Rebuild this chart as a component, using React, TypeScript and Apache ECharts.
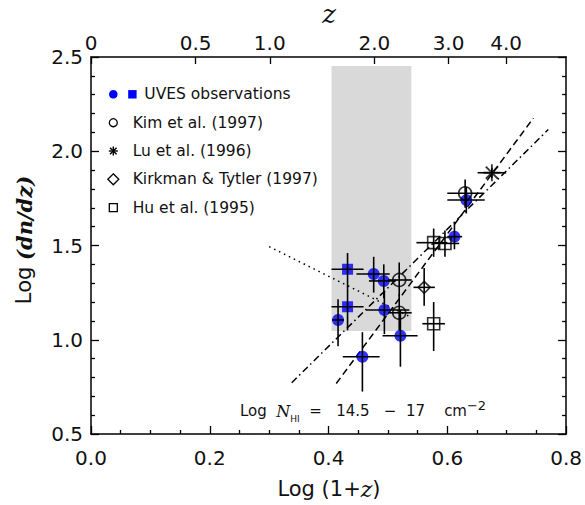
import React, { useEffect, useRef } from "react";
import * as echarts from "echarts";

// ---------- data ----------
// [x, y, xLow, xHigh, yLow, yHigh]  (x = Log(1+z), y = Log dn/dz)
const uvesCircles = [
  [0.416, 1.105, 0.406, 0.426, 0.965, 1.215],
  [0.476, 1.349, 0.447, 0.503, 1.25, 1.44],
  [0.493, 1.312, 0.468, 0.513, 1.22, 1.4],
  [0.494, 1.158, 0.463, 0.536, 1.03, 1.26],
  [0.521, 1.021, 0.491, 0.55, 0.857, 1.16],
  [0.457, 0.91, 0.424, 0.486, 0.725, 1.04],
  [0.612, 1.547, 0.6, 0.625, 1.48, 1.62],
  [0.632, 1.741, 0.6, 0.663, 1.67, 1.81],
];
const uvesSquares = [
  [0.432, 1.374, 0.405, 0.459, 1.27, 1.46],
  [0.432, 1.175, 0.405, 0.459, 1.05, 1.27],
];
const kim1997 = [
  [0.519, 1.317, 0.5, 0.54, 1.23, 1.41],
  [0.519, 1.143, 0.5, 0.54, 1.05, 1.24],
  [0.63, 1.777, 0.6, 0.66, 1.7, 1.85],
];
const lu1996 = [[0.675, 1.886, 0.651, 0.699, 1.86, 1.912]];
const kirkman1997 = [[0.561, 1.278, 0.543, 0.579, 1.18, 1.38]];
const hu1995 = [
  [0.577, 1.085, 0.558, 0.596, 0.94, 1.2],
  [0.577, 1.515, 0.548, 0.6, 1.44, 1.59],
  [0.596, 1.511, 0.575, 0.62, 1.44, 1.58],
];

const dashedFit = [[0.413, 0.768], [0.745, 2.176]];
const dashDotFit = [[0.338, 0.772], [0.77, 2.115]];
const dottedLine = [[0.3, 1.494], [0.539, 1.119]];
const shadedBand = [[0.405, 1.046], [0.5395, 2.452]];

const zTickValues = [0, 0.5, 1, 2, 3, 4];
const zTickLabels = ["0", "0.5", "1.0", "2.0", "3.0", "4.0"];
const zTickPositions = zTickValues.map((z) => Math.log10(1 + z));

const legendLabels = [
  "UVES observations",
  "Kim et al. (1997)",
  "Lu et al. (1996)",
  "Kirkman & Tytler (1997)",
  "Hu et al. (1995)",
];

// ---------- styles ----------
const SANS = '"DejaVu Sans", sans-serif';
const SERIF = '"DejaVu Serif", serif';
const INK = "#111";
const BLUE = "#0000ff";
const ASTERISK = "path://M0,-10L0,10M-10,0L10,0M-7.07,-7.07L7.07,7.07M-7.07,7.07L7.07,-7.07";

const allPoints = [
  ...uvesCircles,
  ...uvesSquares,
  ...kim1997,
  ...lu1996,
  ...kirkman1997,
  ...hu1995,
];

function errorBarItem(params: any, api: any) {
  const x = api.value(0);
  const y = api.value(1);
  const l = api.coord([api.value(2), y]);
  const r = api.coord([api.value(3), y]);
  const b = api.coord([x, api.value(4)]);
  const t = api.coord([x, api.value(5)]);
  const st = { stroke: "#000", lineWidth: 1.6 };
  return {
    type: "group",
    children: [
      { type: "line", shape: { x1: l[0], y1: l[1], x2: r[0], y2: r[1] }, style: st },
      { type: "line", shape: { x1: b[0], y1: b[1], x2: t[0], y2: t[1] }, style: st },
    ],
  };
}

const openStyle = { color: "rgba(0,0,0,0)", borderColor: "#000", borderWidth: 1.6 };

function axisCommon() {
  return {
    type: "value",
    axisLine: { show: true, onZero: false, lineStyle: { color: "#000", width: 1.5 } },
    splitLine: { show: false },
  };
}

const labelStyle = { fontFamily: SANS, fontSize: 20, color: INK };

export default function App() {
  const ref = useRef<HTMLDivElement>(null);
  useEffect(() => {
    if (!ref.current) return;
    const chart = echarts.init(ref.current, null, { renderer: "svg" });
    const lx = 113.3;
    const rows = [94.3, 122.7, 151, 179.3, 207.7];
    const legendFont = `15.5px ${SANS}`;
    const option: any = {
      animation: false,
      grid: { left: 91, right: 18, top: 57, bottom: 71 },
      xAxis: [
        {
          ...axisCommon(),
          position: "bottom",
          min: 0,
          max: 0.8,
          interval: 0.2,
          axisTick: { inside: true, length: 8, lineStyle: { color: "#000", width: 1.3 } },
          minorTick: { show: true, splitNumber: 4, length: 4, lineStyle: { color: "#000", width: 1.3 } },
          axisLabel: { ...labelStyle, margin: 14, formatter: (v: number) => v.toFixed(1) },
        },
        {
          ...axisCommon(),
          position: "top",
          min: 0,
          max: 0.8,
          axisTick: {
            inside: true,
            length: 7,
            customValues: zTickPositions,
            lineStyle: { color: "#000", width: 1.3 },
          },
          axisLabel: {
            ...labelStyle,
            margin: 4,
            customValues: zTickPositions,
            formatter: (v: number) => {
              const i = zTickPositions.findIndex((p) => Math.abs(p - v) < 1e-6);
              return i >= 0 ? zTickLabels[i] : "";
            },
          },
        },
      ],
      yAxis: [
        {
          ...axisCommon(),
          position: "left",
          min: 0.5,
          max: 2.5,
          interval: 0.5,
          axisTick: { inside: true, length: 8, lineStyle: { color: "#000", width: 1.3 } },
          minorTick: { show: true, splitNumber: 5, length: 4, lineStyle: { color: "#000", width: 1.3 } },
          axisLabel: { ...labelStyle, margin: 8, formatter: (v: number) => v.toFixed(1) },
        },
        {
          ...axisCommon(),
          position: "right",
          min: 0.5,
          max: 2.5,
          interval: 0.5,
          axisTick: { inside: true, length: 8, lineStyle: { color: "#000", width: 1.3 } },
          minorTick: { show: true, splitNumber: 5, length: 4, lineStyle: { color: "#000", width: 1.3 } },
          axisLabel: { show: false },
        },
      ],
      series: [
        {
          type: "line",
          data: [],
          z: 1,
          silent: true,
          markArea: {
            silent: true,
            itemStyle: { color: "#d9d9d9" },
            data: [[{ coord: shadedBand[0] }, { coord: shadedBand[1] }]],
          },
        },
        {
          type: "line",
          data: dashedFit,
          z: 2,
          silent: true,
          showSymbol: false,
          lineStyle: { color: "#000", width: 1.5, type: [7, 4] },
        },
        {
          type: "line",
          data: dashDotFit,
          z: 2,
          silent: true,
          showSymbol: false,
          lineStyle: { color: "#000", width: 1.5, type: [7, 3.5, 1.5, 3.5] },
        },
        {
          type: "line",
          data: dottedLine,
          z: 2,
          silent: true,
          showSymbol: false,
          lineStyle: { color: "#000", width: 1.5, type: [1.5, 4] },
        },
        {
          type: "scatter",
          data: uvesCircles.map((d) => [d[0], d[1]]),
          symbol: "circle",
          symbolSize: 12,
          z: 3,
          silent: true,
          itemStyle: { color: BLUE },
        },
        {
          type: "scatter",
          data: uvesSquares.map((d) => [d[0], d[1]]),
          symbol: "rect",
          symbolSize: 11,
          z: 3,
          silent: true,
          itemStyle: { color: BLUE },
        },
        {
          type: "custom",
          data: allPoints,
          z: 4,
          silent: true,
          renderItem: errorBarItem,
          encode: { x: [0, 2, 3], y: [1, 4, 5] },
        },
        {
          type: "scatter",
          data: kim1997.map((d) => [d[0], d[1]]),
          symbol: "circle",
          symbolSize: 13,
          z: 5,
          silent: true,
          itemStyle: openStyle,
        },
        {
          type: "scatter",
          data: hu1995.map((d) => [d[0], d[1]]),
          symbol: "rect",
          symbolSize: 12,
          z: 5,
          silent: true,
          itemStyle: openStyle,
        },
        {
          type: "scatter",
          data: kirkman1997.map((d) => [d[0], d[1]]),
          symbol: "diamond",
          symbolSize: [12, 12],
          z: 5,
          silent: true,
          itemStyle: openStyle,
        },
        {
          type: "scatter",
          data: lu1996.map((d) => [d[0], d[1]]),
          symbol: ASTERISK,
          symbolSize: 17,
          z: 5,
          silent: true,
          itemStyle: { color: "rgba(0,0,0,0)", borderColor: "#000", borderWidth: 1.8 },
        },
      ],
      graphic: [
        // titles
        {
          type: "text",
          x: 329,
          y: 14,
          style: { text: "z", font: `italic 26px ${SERIF}`, fill: INK, align: "center", verticalAlign: "middle" },
        },
        {
          type: "text",
          x: 329,
          y: 489,
          style: {
            text: "{s|Log (1+}{i|z}{s|)}",
            align: "center",
            verticalAlign: "middle",
            rich: {
              s: { fontFamily: SANS, fontSize: 21, fill: INK },
              i: { fontFamily: SERIF, fontStyle: "italic", fontSize: 22, fill: INK },
            },
          },
        },
        {
          type: "text",
          x: 24,
          y: 240,
          rotation: Math.PI / 2,
          style: {
            text: "{s|Log }{i|(dn/dz)}",
            align: "center",
            verticalAlign: "middle",
            rich: {
              s: { fontFamily: SANS, fontSize: 21, fill: INK },
              i: { fontFamily: SERIF, fontStyle: "italic", fontWeight: "bold", fontSize: 21, fill: INK },
            },
          },
        },
        {
          type: "text",
          x: 240,
          y: 411,
          style: {
            text: "{s|Log  }{n|N}{sub|HI}{s|  =   14.5   \u2212  17    cm}{sup|\u22122}",
            align: "left",
            verticalAlign: "middle",
            rich: {
              s: { fontFamily: SANS, fontSize: 15, fill: INK, lineHeight: 24 },
              n: { fontFamily: SERIF, fontStyle: "italic", fontSize: 16, fill: INK, lineHeight: 24 },
              sub: { fontFamily: SANS, fontSize: 9, fill: INK, verticalAlign: "bottom", lineHeight: 14 },
              sup: { fontFamily: SANS, fontSize: 13, fill: INK, verticalAlign: "top", lineHeight: 12 },
            },
          },
        },
        // legend symbols
        { type: "circle", shape: { cx: lx, cy: rows[0], r: 4.3 }, style: { fill: BLUE } },
        { type: "rect", shape: { x: 128.2, y: rows[0] - 4.2, width: 8.4, height: 8.4 }, style: { fill: BLUE } },
        { type: "circle", shape: { cx: lx, cy: rows[1], r: 4 }, style: { fill: "none", stroke: "#000", lineWidth: 1.3 } },
        { type: "line", shape: { x1: lx, y1: rows[2] - 4.5, x2: lx, y2: rows[2] + 4.5 }, style: { stroke: "#000", lineWidth: 1.4 } },
        { type: "line", shape: { x1: lx - 4.5, y1: rows[2], x2: lx + 4.5, y2: rows[2] }, style: { stroke: "#000", lineWidth: 1.4 } },
        { type: "line", shape: { x1: lx - 3.3, y1: rows[2] - 3.3, x2: lx + 3.3, y2: rows[2] + 3.3 }, style: { stroke: "#000", lineWidth: 1.4 } },
        { type: "line", shape: { x1: lx - 3.3, y1: rows[2] + 3.3, x2: lx + 3.3, y2: rows[2] - 3.3 }, style: { stroke: "#000", lineWidth: 1.4 } },
        {
          type: "polygon",
          shape: { points: [[lx, rows[3] - 5.5], [lx + 5.5, rows[3]], [lx, rows[3] + 5.5], [lx - 5.5, rows[3]]] },
          style: { fill: "none", stroke: "#000", lineWidth: 1.3 },
        },
        { type: "rect", shape: { x: lx - 4, y: rows[4] - 4, width: 8, height: 8 }, style: { fill: "none", stroke: "#000", lineWidth: 1.3 } },
        // legend texts
        ...legendLabels.map((t, i) => ({
          type: "text",
          x: i === 0 ? 144.3 : 132.7,
          y: rows[i],
          style: { text: t, font: legendFont, fill: INK, align: "left", verticalAlign: "middle" },
        })),
      ],
    };
    chart.setOption(option);
    return () => chart.dispose();
  }, []);
  return (
    <div
      ref={ref}
      style={{ position: "fixed", left: 0, top: 0, width: 585, height: 505, background: "#fff" }}
    />
  );
}
